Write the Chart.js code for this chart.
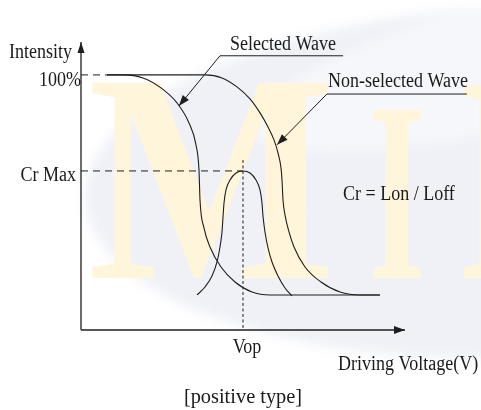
<!DOCTYPE html>
<html>
<head>
<meta charset="utf-8">
<script src="https://cdn.jsdelivr.net/npm/chart.js@4.4.1/dist/chart.umd.min.js"></script>
<style>
  html, body { margin: 0; padding: 0; background: #fff; }
  #wrap { width: 481px; height: 410px; position: relative; }
</style>
</head>
<body>
<div id="wrap"><canvas id="mainChart"></canvas></div>
<script>
// ═══ DATA (x = driving voltage, arbitrary units 0..100; y = intensity %) ═══
const selectedX = [8.02, 12.96, 19.14, 24.69, 29.63, 33.33, 35.49, 36.42, 36.73, 37.96, 39.81, 43.21, 47.53, 52.78, 58.33, 92.28];
const selectedY = [100, 100, 98.82, 94.90, 89.02, 81.18, 72.55, 62.75, 50.98, 40.0, 32.55, 24.71, 18.82, 14.90, 13.73, 13.73];

const nonSelX   = [8.02, 38.27, 43.52, 48.15, 52.16, 55.25, 57.72, 59.57, 60.80, 61.73, 62.04, 62.35, 62.96, 64.20, 65.74, 69.14, 74.07, 79.94, 86.11, 92.28];
const nonSelY   = [100, 100, 98.82, 95.29, 90.59, 85.10, 79.61, 74.51, 69.41, 63.53, 58.82, 50.98, 45.10, 38.43, 32.55, 24.71, 18.82, 14.90, 13.73, 13.73];

const crX       = [35.80, 38.27, 40.43, 41.98, 42.90, 43.52, 43.83, 44.14, 44.75, 45.99, 47.84, 50.0, 52.16, 54.01, 55.25, 55.86, 56.17, 56.79, 57.72, 58.95, 60.80, 62.96, 65.12];
const crY       = [13.73, 16.86, 21.18, 26.67, 32.55, 38.43, 44.31, 49.80, 54.90, 58.82, 61.57, 62.35, 61.57, 58.82, 54.90, 49.80, 44.71, 38.43, 32.16, 26.67, 21.18, 16.47, 13.33];

// guide lines
const crMax     = 62.35;
const vop       = 50;
const fullScale = 100;

// leader lines (label underline -> arrow tip)
const selLeaderX = [80.9, 42.9, 30.2];
const selLeaderY = [107.5, 107.5, 87.8];
const nonLeaderX = [119.1, 75.9, 60.5];
const nonLeaderY = [92.5, 92.5, 72.6];

const xMax = 100, yMax = 112.9;

const pts = (xs, ys) => xs.map((x, i) => ({ x: x, y: ys[i] }));

const INK = '#1e1e1e';
const SERIF = '"Liberation Serif", "Times New Roman", serif';

// ═══ background watermark ═══
const bgPlugin = {
  id: 'bg',
  beforeDraw(chart) {
    const c = chart.ctx;
    c.save();
    c.fillStyle = '#fff';
    c.fillRect(0, 0, chart.width, chart.height);
    // swoosh (soft edged)
    c.save();
    c.filter = 'blur(6px)';
    c.beginPath();
    c.ellipse(525, 182, 440, 176, -0.04, 0, Math.PI * 2);
    c.fillStyle = '#eff1f7';
    c.fill();
    c.beginPath();
    c.ellipse(600, 40, 360, 70, -0.25, 0, Math.PI * 2);
    c.fillStyle = 'rgba(255,255,255,0.45)';
    c.fill();
    c.restore();
    // letters
    c.fillStyle = '#fff5da';
    c.textBaseline = 'alphabetic';
    const letter = (ch, x, y, size, sx) => {
      c.save();
      c.translate(x, y);
      c.scale(sx, 1);
      c.font = 'bold ' + size + 'px ' + SERIF;
      c.fillText(ch, 0, 0);
      c.restore();
    };
    letter('M', 88, 278, 298, 0.88);
    letter('I', 368, 278, 256, 0.58);
    letter('I', 458, 278, 294, 0.62);
    c.restore();
  }
};

// ═══ arrowheads + text ═══
const annoPlugin = {
  id: 'anno',
  afterDatasetsDraw(chart) {
    const c = chart.ctx;
    const xs = chart.scales.x, ys = chart.scales.y;
    c.save();
    chart.data.datasets.forEach(ds => {
      if (!ds.arrow) return;
      const n = ds.data.length;
      const a = ds.data[n - 2], b = ds.data[n - 1];
      const x1 = xs.getPixelForValue(a.x), y1 = ys.getPixelForValue(a.y);
      const x2 = xs.getPixelForValue(b.x), y2 = ys.getPixelForValue(b.y);
      const ang = Math.atan2(y2 - y1, x2 - x1);
      const L = ds.arrow.len, W = ds.arrow.half;
      c.beginPath();
      c.moveTo(x2, y2);
      c.lineTo(x2 - L * Math.cos(ang) + W * Math.sin(ang), y2 - L * Math.sin(ang) - W * Math.cos(ang));
      c.lineTo(x2 - L * Math.cos(ang) - W * Math.sin(ang), y2 - L * Math.sin(ang) + W * Math.cos(ang));
      c.closePath();
      c.fillStyle = INK;
      c.fill();
    });

    c.fillStyle = '#1a1a1a';
    c.textBaseline = 'alphabetic';
    // serif text, slightly condensed like the original artwork
    const txt = (s, x, y, align, size, sx) => {
      size = size || 20;
      sx = sx || 0.9;
      c.save();
      c.font = size + 'px ' + SERIF;
      const w = c.measureText(s).width * sx;
      let left = x;
      if (align === 'right') left = x - w;
      if (align === 'center') left = x - w / 2;
      c.translate(left, y);
      c.scale(sx, 1);
      c.textAlign = 'left';
      c.fillText(s, 0, 0);
      c.restore();
    };
    txt('Intensity', 72, 58, 'right');
    txt('100%', 81, 86, 'right');
    txt('Cr Max', 76, 181, 'right');
    txt('Selected Wave', 230, 50, 'left');
    txt('Non-selected Wave', 328, 87, 'left');
    txt('Cr = Lon / Loff', 343, 200, 'left');
    txt('Vop', 247, 353, 'center');
    txt('Driving Voltage(V)', 338, 370, 'left');
    txt('[positive type]', 243, 403, 'center', 21, 0.97);
    c.restore();
  }
};

function initMainChart() {
  const curve = { borderColor: INK, borderWidth: 1.1, pointRadius: 0, cubicInterpolationMode: 'monotone', fill: false };
  const straight = { borderColor: INK, borderWidth: 1, pointRadius: 0, tension: 0, fill: false };
  new Chart(document.getElementById('mainChart'), {
    type: 'line',
    data: {
      datasets: [
        { label: 'Selected Wave',     data: pts(selectedX, selectedY), ...curve },
        { label: 'Non-selected Wave', data: pts(nonSelX, nonSelY),     ...curve },
        { label: 'Cr',                data: pts(crX, crY),             ...curve },
        { label: '100%',   data: pts([0, selectedX[0]], [fullScale, fullScale]), ...straight, borderDash: [7, 5] },
        { label: 'Cr Max', data: pts([0, vop], [crMax, crMax]),                  ...straight, borderDash: [7, 5] },
        { label: 'Vop',    data: pts([vop, vop], [crMax + 4.3, 0]),              ...straight, borderDash: [3, 2.5] },
        { label: 'selLeader', data: pts(selLeaderX, selLeaderY), ...straight, arrow: { len: 11, half: 4 } },
        { label: 'nonLeader', data: pts(nonLeaderX, nonLeaderY), ...straight, arrow: { len: 11, half: 4 } },
        { label: 'xAxis', data: pts([0, xMax], [0, 0]), ...straight, borderWidth: 1.3, arrow: { len: 11, half: 4 } },
        { label: 'yAxis', data: pts([0, 0], [0, yMax]), ...straight, borderWidth: 1.3, arrow: { len: 11, half: 3.5 } }
      ]
    },
    options: {
      responsive: true,
      maintainAspectRatio: false,
      animation: false,
      clip: false,
      layout: { padding: { left: 81, right: 76, top: 42, bottom: 80 } },
      plugins: { legend: { display: false }, tooltip: { enabled: false } },
      scales: {
        x: { type: 'linear', min: 0, max: xMax, display: false },
        y: { type: 'linear', min: 0, max: yMax, display: false }
      }
    },
    plugins: [bgPlugin, annoPlugin]
  });
}

document.addEventListener('DOMContentLoaded', initMainChart);
</script>
</body>
</html>
